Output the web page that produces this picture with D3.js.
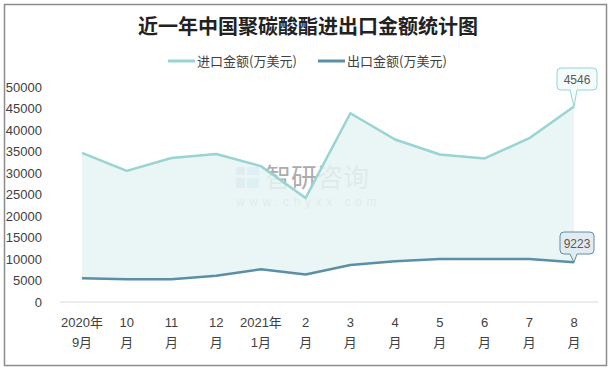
<!DOCTYPE html>
<html>
<head>
<meta charset="utf-8">
<title>近一年中国聚碳酸酯进出口金额统计图</title>
<script src="https://d3js.org/d3.v7.min.js"></script>
<style>
    body { margin: 0; background: #fff; }
    svg text { font-family: "Liberation Sans", "Noto Sans CJK SC", sans-serif; }
    .axis text { fill: #404040; font-size: 13px; }
</style>
</head>
<body>
<div id="chart"></div>
<script>
// month labels (two lines each)
var months = ["2020年|9月", "10|月", "11|月", "12|月", "2021年|1月", "2|月",
              "3|月", "4|月", "5|月", "6|月", "7|月", "8|月"];
var importValues = [34700, 30500, 33500, 34400, 31600, 24200, 43900, 37800, 34300, 33400, 38100, 45460];
var exportValues = [5500, 5300, 5300, 6100, 7600, 6400, 8600, 9500, 10000, 10000, 10000, 9223];
var yTicks = [0, 5000, 10000, 15000, 20000, 25000, 30000, 35000, 40000, 45000, 50000];
var seriesNames = ["进口金额(万美元)", "出口金额(万美元)"];
var colors = ["#98d4d2", "#5a8fa7"];

var W = 612, H = 371;
var svg = d3.select("#chart").append("svg")
    .attr("width", W).attr("height", H);

// outer frame
svg.append("rect")
    .attr("x", 4.5).attr("y", 4.5)
    .attr("width", 602).attr("height", 361)
    .attr("fill", "#fff").attr("stroke", "#8c8c8c").attr("stroke-width", 1.5);

// title
svg.append("text")
    .attr("x", 308).attr("y", 34)
    .attr("text-anchor", "middle")
    .style("font-family", "'Noto Sans CJK SC', sans-serif")
    .style("font-size", "20px").style("font-weight", "bold")
    .attr("fill", "#222")
    .text("近一年中国聚碳酸酯进出口金额统计图");

var x = d3.scalePoint().domain(months).range([82, 574]);
var y = d3.scaleLinear().domain([0, 50000]).range([302, 87]);

// legend
var legendX = [168, 318];
seriesNames.forEach(function(name, i) {
    svg.append("line")
        .attr("x1", legendX[i]).attr("x2", legendX[i] + 27)
        .attr("y1", 61).attr("y2", 61)
        .attr("stroke", colors[i]).attr("stroke-width", 3);
    svg.append("text")
        .attr("x", legendX[i] + 29).attr("y", 65.5)
        .style("font-family", "'Noto Sans CJK SC', sans-serif")
        .style("font-size", "13px").attr("fill", "#404040")
        .text(name);
});

// watermark
var wm = svg.append("g").attr("opacity", 0.65);
wm.append("rect").attr("x", 236).attr("y", 167).attr("width", 9).attr("height", 8).attr("fill", "#8fa6c0");
wm.append("rect").attr("x", 236).attr("y", 178).attr("width", 9).attr("height", 10).attr("fill", "#8fa6c0");
wm.append("rect").attr("x", 247).attr("y", 167).attr("width", 12).attr("height", 8).attr("fill", "#7fc4e0");
wm.append("rect").attr("x", 247).attr("y", 178).attr("width", 12).attr("height", 10).attr("fill", "#7fc4e0");
wm.append("text").attr("x", 265).attr("y", 187)
    .style("font-family", "'Noto Sans CJK SC', sans-serif")
    .style("font-size", "26px").attr("fill", "#808080")
    .text("智研咨询");
wm.append("text").attr("x", 236).attr("y", 206)
    .style("font-size", "12px").style("letter-spacing", "4.6px").attr("fill", "#808080")
    .text("www.chyxx.com");

// area between import and export
var area = d3.area()
    .x(function(d, i) { return x(months[i]); })
    .y0(function(d, i) { return y(exportValues[i]); })
    .y1(function(d) { return y(d); });
svg.append("path")
    .datum(importValues)
    .attr("d", area)
    .attr("fill", "#e6f4f4").attr("opacity", 0.85);

// y axis
var yAxis = svg.append("g").attr("class", "axis")
    .attr("transform", "translate(44,0)")
    .call(d3.axisLeft(y).tickValues(yTicks).tickFormat(d3.format("d")).tickSize(0).tickPadding(2));
yAxis.select(".domain").remove();

// baseline
svg.append("line")
    .attr("x1", 60).attr("x2", 598)
    .attr("y1", y(0)).attr("y2", y(0))
    .attr("stroke", "#d9d9d9").attr("stroke-width", 1);

// x axis labels
var xl = svg.append("g").attr("class", "axis");
months.forEach(function(m) {
    var parts = m.split("|");
    var t = xl.append("text")
        .attr("x", x(m)).attr("text-anchor", "middle");
    t.append("tspan").attr("x", x(m)).attr("y", 327).text(parts[0]);
    t.append("tspan").attr("x", x(m)).attr("y", 347).text(parts[1]);
});

// lines
var line = d3.line()
    .x(function(d, i) { return x(months[i]); })
    .y(function(d) { return y(d); });
[importValues, exportValues].forEach(function(vals, i) {
    svg.append("path")
        .datum(vals)
        .attr("d", line)
        .attr("fill", "none")
        .attr("stroke", colors[i])
        .attr("stroke-width", 2.5)
        .attr("stroke-linejoin", "round");
});

// callouts on last points
function callout(value, text, color, fill, boxW, boxTop) {
    var px = x(months[months.length - 1]), py = y(value);
    var bx = px - boxW / 2 + 3, bh = 22, by = boxTop;
    var g = svg.append("g");
    var pth = d3.path();
    pth.moveTo(bx + 4, by);
    pth.lineTo(bx + boxW - 4, by);
    pth.quadraticCurveTo(bx + boxW, by, bx + boxW, by + 4);
    pth.lineTo(bx + boxW, by + bh - 4);
    pth.quadraticCurveTo(bx + boxW, by + bh, bx + boxW - 4, by + bh);
    pth.lineTo(px + 3, by + bh);
    pth.lineTo(px, py);
    pth.lineTo(px - 4, by + bh);
    pth.lineTo(bx + 4, by + bh);
    pth.quadraticCurveTo(bx, by + bh, bx, by + bh - 4);
    pth.lineTo(bx, by + 4);
    pth.quadraticCurveTo(bx, by, bx + 4, by);
    g.append("path").attr("d", pth.toString())
        .attr("fill", fill).attr("stroke", color).attr("stroke-width", 1);
    g.append("text")
        .attr("x", bx + boxW / 2).attr("y", by + 15.5)
        .attr("text-anchor", "middle")
        .style("font-size", "12px").attr("fill", "#595959")
        .text(text);
}
callout(importValues[11], "4546", "#98d4d2", "#f4fbfb", 40, 68);
callout(exportValues[11], "9223", "#5a8fa7", "#e3ebf0", 34, 232);
</script>
</body>
</html>
